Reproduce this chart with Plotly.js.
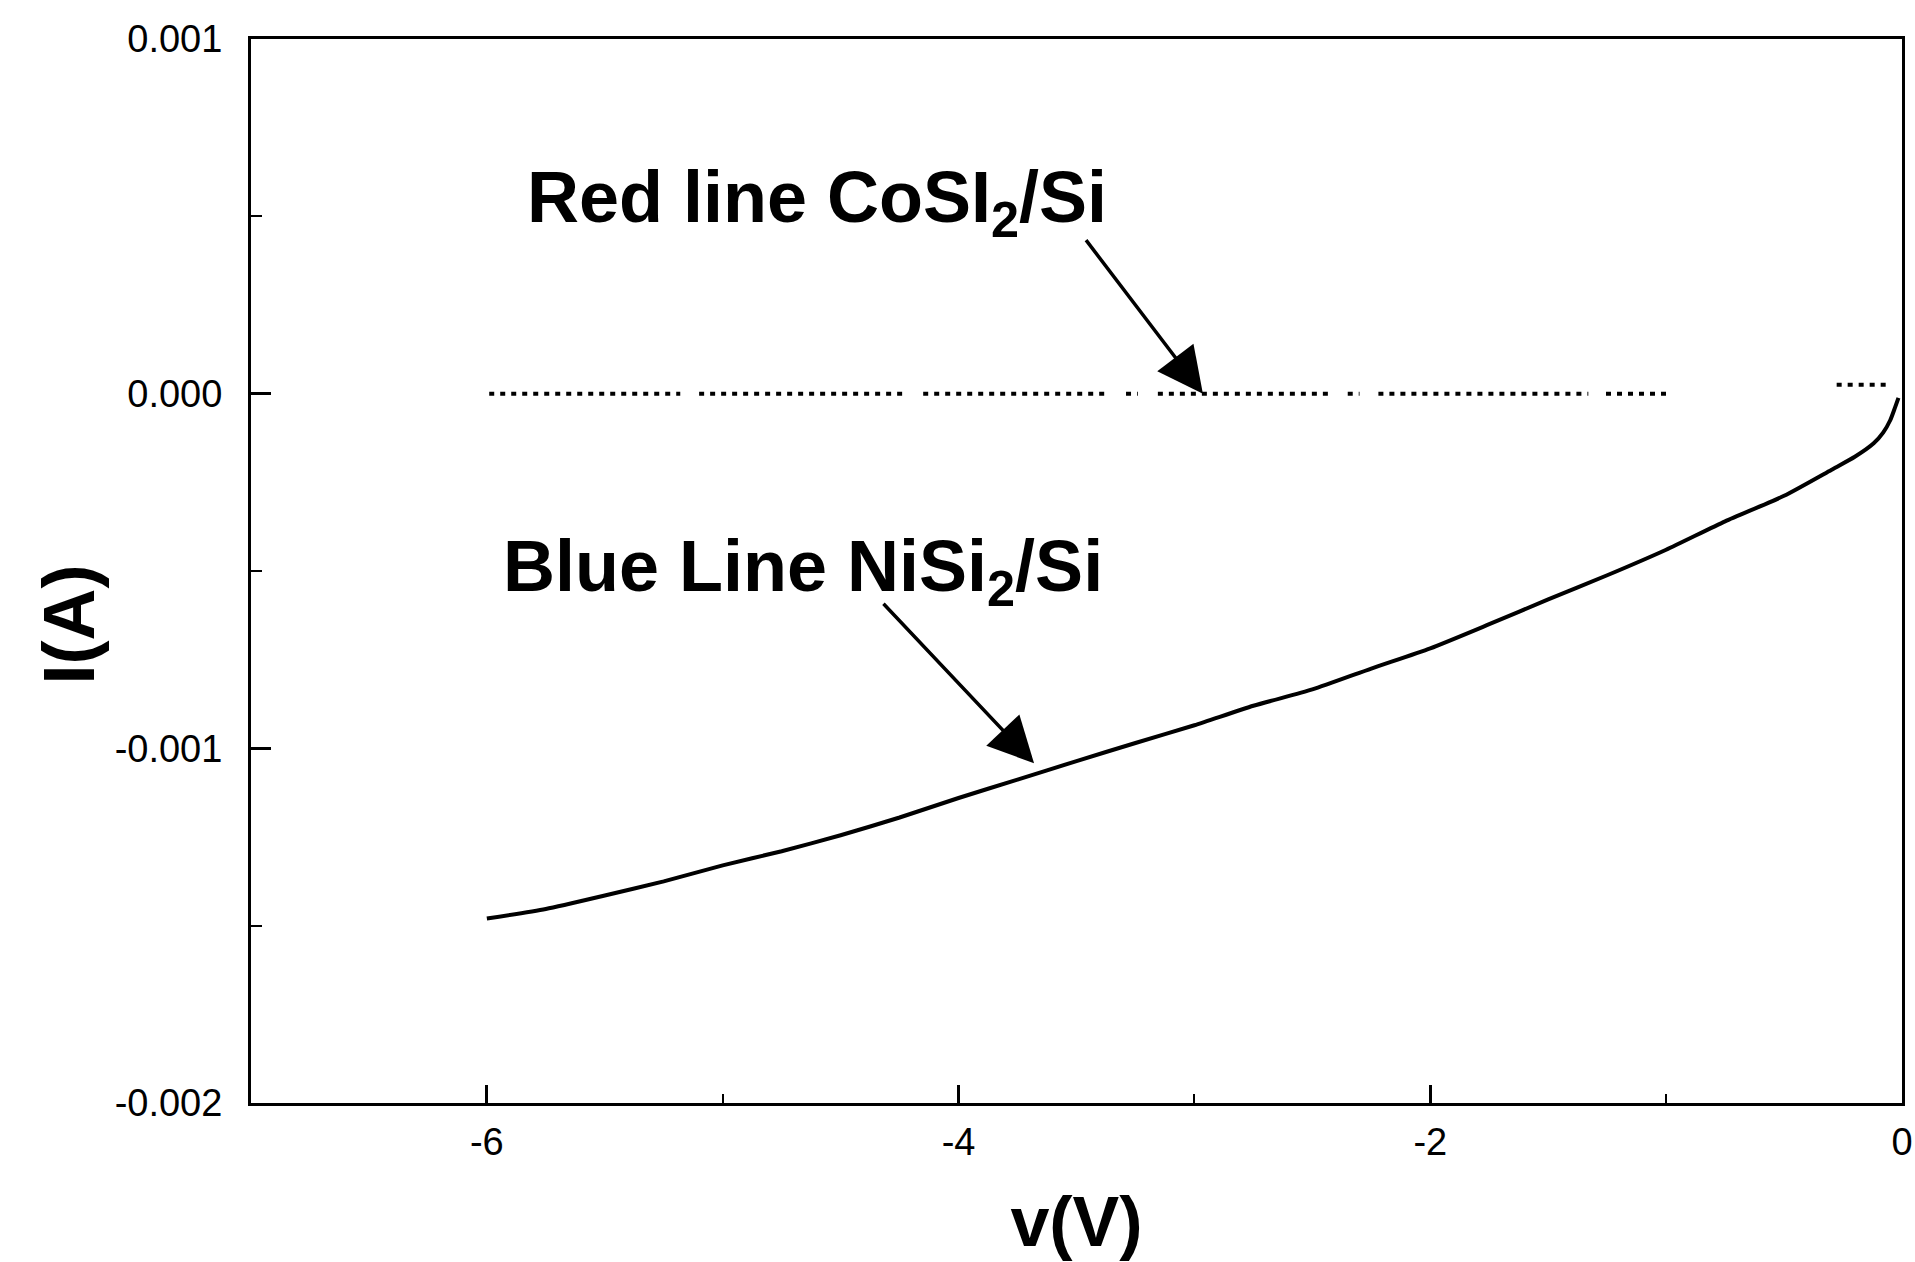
<!DOCTYPE html>
<html>
<head>
<meta charset="utf-8">
<script src="https://cdn.plot.ly/plotly-3.0.1.min.js"></script>
<style>html,body{margin:0;padding:0;background:#fff;}#chart{width:1915px;height:1262px;}</style>
</head>
<body>
<div id="chart"></div>
<script>
// NiSi2/Si (blue line in original caption, printed black)
const niV = [-6.0, -5.75, -5.5, -5.25, -5.0, -4.75, -4.5, -4.25, -4.0, -3.75, -3.5, -3.25, -3.0, -2.75, -2.5, -2.25, -2.0, -1.75, -1.5, -1.25, -1.0, -0.75, -0.5, -0.3, -0.2, -0.12, -0.08, -0.05, -0.03, -0.015];
const niI = [-0.001480, -0.001453, -0.001415, -0.001375, -0.001330, -0.001290, -0.001245, -0.001195, -0.001140, -0.001088, -0.001036, -0.000985, -0.000935, -0.000880, -0.000834, -0.000775, -0.000718, -0.000650, -0.000580, -0.000512, -0.000440, -0.000360, -0.000288, -0.000215, -0.000178, -0.000140, -0.000110, -0.000075, -0.000040, -0.000012];

// CoSI2/Si (red line in original caption, dotted), null = gap in the trace
const cosiV = [-5.99, -5.18, -5.14, -5.10, -4.22, -4.185, -4.15, -3.37, -3.33, -3.29, -3.24, -3.20, -3.155, -2.43, -2.39, -2.35, -2.30, -2.26, -2.22, -1.33, -1.29, -1.255, -0.985, -0.6, -0.277, -0.05];
const cosiI = [0, 0, null, 0, 0, null, 0, 0, null, 0, 0, null, 0, 0, null, 0, 0, null, 0, 0, null, 0, 0, null, 0.000025, 0.000025];

// Axis ticks
const xTickVals = [-6, -4, -2, 0];
const xTickText = ['-6', '-4', '-2', '0'];
const yTickVals = [0.001, 0, -0.001, -0.002];
const yTickText = ['0.001', '0.000', '-0.001', '-0.002'];

// Labels
const xTitle = 'v(V)';
const yTitle = 'I(A)';
const redLabel = 'Red line CoSI<sub>2</sub>/Si';
const blueLabel = 'Blue Line NiSi<sub>2</sub>/Si';

const narrow = '"Liberation Sans Narrow", "Arial Narrow", "Liberation Sans", Arial, sans-serif';
const sans = '"Liberation Sans", Arial, sans-serif';

const traces = [
  {x: cosiV, y: cosiI, type: 'scatter', mode: 'lines', connectgaps: false,
   line: {color: '#000', width: 4, dash: '5px,6px'}, name: 'CoSI2/Si', hoverinfo: 'x+y'},
  {x: niV, y: niI, type: 'scatter', mode: 'lines',
   line: {color: '#000', width: 4, shape: 'spline', smoothing: 0.6}, name: 'NiSi2/Si', hoverinfo: 'x+y'}
];

const layout = {
  width: 1915, height: 1262,
  margin: {l: 251, r: 13, t: 39, b: 159, pad: 0},
  paper_bgcolor: '#fff', plot_bgcolor: '#fff',
  showlegend: false,
  font: {family: sans, color: '#000'},
  xaxis: {
    range: [-7, 0], autorange: false,
    tickvals: xTickVals, ticktext: xTickText,
    ticks: 'inside', ticklen: 18, tickwidth: 3, tickcolor: '#000',
    minor: {dtick: 1, tick0: 0, ticks: 'inside', ticklen: 9, tickwidth: 2, tickcolor: '#000', showgrid: false},
    showline: true, linewidth: 3, linecolor: '#000', mirror: true,
    showgrid: false, zeroline: false,
    tickfont: {family: narrow, size: 38, color: '#000'},
    ticklabelstandoff: 3,
    title: {text: xTitle, font: {family: narrow, size: 70, weight: 700, color: '#000'}, standoff: 36},
    automargin: false
  },
  yaxis: {
    range: [-0.002, 0.001], autorange: false,
    tickvals: yTickVals, ticktext: yTickText,
    ticks: 'inside', ticklen: 20, tickwidth: 3, tickcolor: '#000',
    minor: {dtick: 0.0005, tick0: 0, ticks: 'inside', ticklen: 11, tickwidth: 2, tickcolor: '#000', showgrid: false},
    showline: true, linewidth: 3, linecolor: '#000', mirror: true,
    showgrid: false, zeroline: false,
    tickfont: {family: narrow, size: 38, color: '#000'},
    ticklabelstandoff: 18,
    automargin: false
  },
  annotations: [
    {text: yTitle, xref: 'paper', yref: 'paper', x: -0.11, y: 0.45, xanchor: 'center', yanchor: 'middle',
     textangle: -90, showarrow: false, font: {family: narrow, size: 72, weight: 700, color: '#000'}},
    {text: redLabel, xref: 'x', yref: 'y', x: -5.84, y: 0.00054, xanchor: 'left', yanchor: 'middle',
     showarrow: false, font: {family: sans, size: 72, weight: 700, color: '#000'}},
    {text: blueLabel, xref: 'x', yref: 'y', x: -5.94, y: -0.00050, xanchor: 'left', yanchor: 'middle',
     showarrow: false, font: {family: sans, size: 72, weight: 700, color: '#000'}},
    {text: '', xref: 'x', yref: 'y', x: -2.964, y: 0, ax: -118, ay: -155, axref: 'pixel', ayref: 'pixel',
     showarrow: true, arrowhead: 2, arrowsize: 2.6, arrowwidth: 3.5, arrowcolor: '#000', standoff: 0},
    {text: '', xref: 'x', yref: 'y', x: -3.68, y: -0.001042, ax: -152, ay: -161, axref: 'pixel', ayref: 'pixel',
     showarrow: true, arrowhead: 2, arrowsize: 2.6, arrowwidth: 3.5, arrowcolor: '#000', standoff: 0}
  ]
};

Plotly.newPlot('chart', traces, layout, {staticPlot: true, displayModeBar: false});
</script>
</body>
</html>
